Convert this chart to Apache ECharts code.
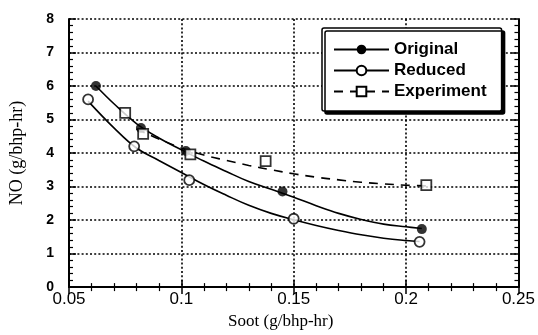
<!DOCTYPE html>
<html>
<head>
<meta charset="utf-8">
<script src="https://cdn.jsdelivr.net/npm/echarts@6/dist/echarts.min.js"></script>
<style>
html,body{margin:0;padding:0;background:#fff;}
#chart{width:538px;height:335px;}
</style>
</head>
<body>
<div id="chart"></div>
<script>
// Measured points
const originalX = [0.062, 0.082, 0.102, 0.145, 0.207];
const originalY = [6.0, 4.75, 4.06, 2.85, 1.73];
const reducedX = [0.0585, 0.079, 0.1035, 0.15, 0.206];
const reducedY = [5.6, 4.2, 3.19, 2.04, 1.35];
const experimentX = [0.075, 0.083, 0.104, 0.1375, 0.209];
const experimentY = [5.2, 4.57, 3.96, 3.76, 3.04];

// Fitted curves
const originalFitX = [0.062, 0.07, 0.08, 0.09, 0.1, 0.11, 0.12, 0.13, 0.14, 0.15, 0.16, 0.17, 0.18, 0.19, 0.2, 0.207];
const originalFitY = [6.0, 5.47, 4.88, 4.45, 4.1, 3.76, 3.45, 3.15, 2.92, 2.68, 2.43, 2.2, 2.02, 1.88, 1.8, 1.75];
const reducedFitX = [0.0585, 0.07, 0.08, 0.09, 0.1, 0.11, 0.12, 0.13, 0.14, 0.15, 0.16, 0.17, 0.18, 0.19, 0.2, 0.206];
const reducedFitY = [5.55, 4.75, 4.15, 3.78, 3.42, 3.06, 2.74, 2.44, 2.2, 2.01, 1.84, 1.69, 1.56, 1.46, 1.39, 1.36];
const experimentFitX = [0.08, 0.09, 0.1, 0.11, 0.12, 0.13, 0.14, 0.15, 0.16, 0.17, 0.18, 0.19, 0.2, 0.209];
const experimentFitY = [4.72, 4.42, 4.15, 3.94, 3.78, 3.63, 3.5, 3.38, 3.28, 3.2, 3.13, 3.08, 3.04, 3.02];

const seriesNames = ['Original', 'Reduced', 'Experiment'];
const xTickLabels = ['0.05', '0.1', '0.15', '0.2', '0.25'];
const yTickLabels = ['0', '1', '2', '3', '4', '5', '6', '7', '8'];
const xTitle = 'Soot (g/bhp-hr)';
const yTitle = 'NO (g/bhp-hr)';

function pairs(xs, ys) { return xs.map((x, i) => [x, ys[i]]); }

const chart = echarts.init(document.getElementById('chart'), null, {renderer: 'canvas'});

const black = '#000';
const dotted = {type: [2, 2.2], color: '#000', width: 1.6};

const baseX = {
  type: 'value', min: 0.05, max: 0.25, interval: 0.05,
  axisLine: {show: true, lineStyle: {color: black, width: 2}},
  axisTick: {show: true, inside: true, length: 7, lineStyle: {color: black, width: 1.5}},
  minorTick: {show: true, splitNumber: 5, length: 4, lineStyle: {color: black, width: 1.2}},
  splitLine: {show: false},
  axisLabel: {show: false}
};
const baseY = {
  type: 'value', min: 0, max: 8, interval: 1,
  axisLine: {show: true, lineStyle: {color: black, width: 2}},
  axisTick: {show: true, inside: true, length: 7, lineStyle: {color: black, width: 1.5}},
  minorTick: {show: true, splitNumber: 5, length: 4, lineStyle: {color: black, width: 1.2}},
  splitLine: {show: false},
  axisLabel: {show: false}
};

const option = {
  backgroundColor: '#fff',
  animation: false,
  grid: {left: 69, right: 18, top: 19, bottom: 47, containLabel: false},
  legend: {
    data: seriesNames,
    orient: 'vertical',
    left: 322, top: 28,
    padding: [13, 15, 11, 11],
    itemWidth: 55, itemHeight: 12, itemGap: 4,
    backgroundColor: '#fff',
    borderColor: black, borderWidth: 1.5, borderRadius: 2,
    shadowColor: '#000', shadowBlur: 0, shadowOffsetX: 3, shadowOffsetY: 3,
    textStyle: {fontFamily: 'Liberation Sans', fontSize: 17, fontWeight: 'bold', color: black},
    selectedMode: false
  },
  xAxis: [
    Object.assign({}, baseX, {
      position: 'bottom',
      splitLine: {show: true, lineStyle: dotted},
      axisLabel: {
        show: true, margin: 4, color: black,
        fontFamily: 'Liberation Sans', fontSize: 17,
        formatter: function (v) { return xTickLabels[Math.round((v - 0.05) / 0.05)]; }
      },
      name: xTitle, nameLocation: 'middle', nameGap: 13,
      nameTextStyle: {fontFamily: 'Liberation Serif', fontSize: 17, color: black, padding: [0, 26, 0, 0]}
    }),
    Object.assign({}, baseX, {position: 'top'})
  ],
  yAxis: [
    Object.assign({}, baseY, {
      position: 'left',
      splitLine: {show: true, lineStyle: dotted},
      axisLabel: {
        show: true, margin: 15, color: black,
        fontFamily: 'Liberation Sans', fontSize: 14, fontWeight: 'bold',
        formatter: function (v) { return yTickLabels[Math.round(v)]; }
      },
      name: yTitle, nameLocation: 'middle', nameGap: 43,
      nameTextStyle: {fontFamily: 'Liberation Serif', fontSize: 18, color: black}
    }),
    Object.assign({}, baseY, {position: 'right'})
  ],
  series: [
    {
      name: 'Original', type: 'line', data: pairs(originalFitX, originalFitY),
      smooth: 0.4, showSymbol: false, symbol: 'circle', symbolSize: 10,
      lineStyle: {color: black, width: 1.6}, itemStyle: {color: black}, z: 3
    },
    {
      name: 'Reduced', type: 'line', data: pairs(reducedFitX, reducedFitY),
      smooth: 0.4, showSymbol: false, symbol: 'emptyCircle', symbolSize: 10,
      lineStyle: {color: black, width: 1.6}, itemStyle: {color: black, borderColor: black, borderWidth: 1.5}, z: 3
    },
    {
      name: 'Experiment', type: 'line', data: pairs(experimentFitX, experimentFitY),
      smooth: 0.4, showSymbol: false, symbol: 'emptyRect', symbolSize: 10,
      lineStyle: {color: black, width: 1.6, type: [9, 7]}, itemStyle: {color: black, borderColor: black, borderWidth: 1.5}, z: 3
    },
    {
      name: 'Original', type: 'scatter', data: pairs(originalX, originalY),
      symbol: 'circle', symbolSize: 10, itemStyle: {color: black}, z: 5
    },
    {
      name: 'Reduced', type: 'scatter', data: pairs(reducedX, reducedY),
      symbol: 'circle', symbolSize: 10,
      itemStyle: {color: '#fff', borderColor: black, borderWidth: 1.8}, z: 5
    },
    {
      name: 'Experiment', type: 'scatter', data: pairs(experimentX, experimentY),
      symbol: 'rect', symbolSize: 10,
      itemStyle: {color: '#fff', borderColor: black, borderWidth: 1.8}, z: 5
    }
  ]
};
chart.setOption(option);
</script>
</body>
</html>
